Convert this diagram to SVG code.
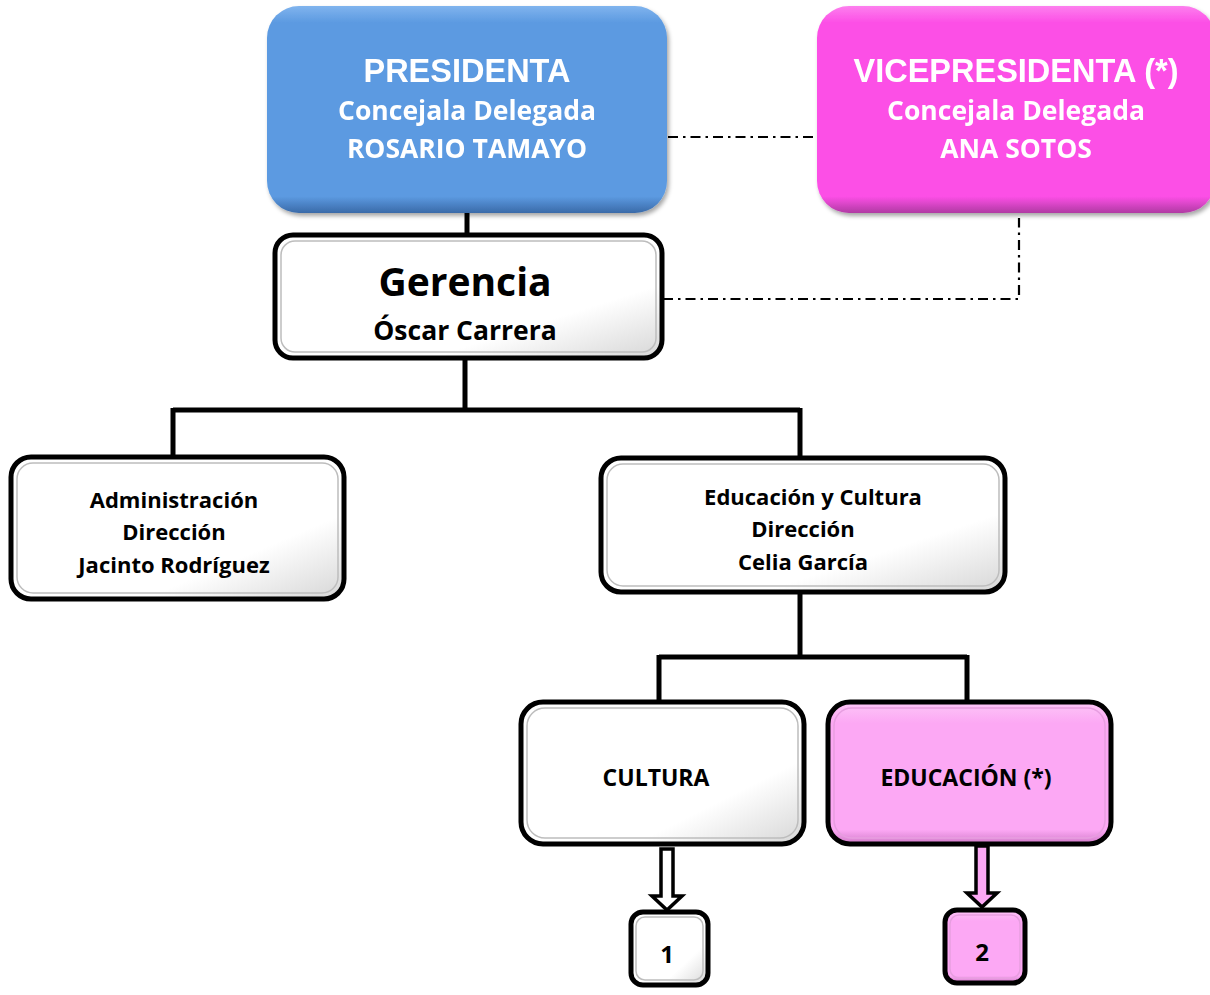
<svg xmlns="http://www.w3.org/2000/svg" width="1210" height="995" viewBox="0 0 1210 995">
<defs>
<linearGradient id="gw" x1="0" y1="0" x2="1" y2="1">
<stop offset="0" stop-color="#ffffff"/><stop offset="0.7" stop-color="#ffffff"/><stop offset="1" stop-color="#d6d6d6"/>
</linearGradient>
<linearGradient id="gp" x1="0" y1="0" x2="0" y2="1">
<stop offset="0" stop-color="#fdc6f7"/><stop offset="0.15" stop-color="#fca8f4"/><stop offset="0.9" stop-color="#fca8f4"/><stop offset="1" stop-color="#d07ac8"/>
</linearGradient>
<linearGradient id="gb" x1="0" y1="0" x2="0" y2="1">
<stop offset="0" stop-color="#80b4ee"/><stop offset="0.08" stop-color="#5c9ae1"/><stop offset="0.92" stop-color="#5c9ae1"/><stop offset="1" stop-color="#3a6aa8"/>
</linearGradient>
<linearGradient id="gm" x1="0" y1="0" x2="0" y2="1">
<stop offset="0" stop-color="#fd7fee"/><stop offset="0.08" stop-color="#fc4fe6"/><stop offset="0.92" stop-color="#fc4fe6"/><stop offset="1" stop-color="#b03aa3"/>
</linearGradient>
<filter id="sh" x="-5%" y="-5%" width="115%" height="120%">
<feDropShadow dx="2" dy="3" stdDeviation="2" flood-color="#000" flood-opacity="0.35"/>
</filter>
</defs>
<style>
.box{stroke:#000;stroke-width:5}
.inner{fill:none;stroke:#bdbdbd;stroke-width:1.5}
.t{font-family:"Open Sans","Lato",sans-serif;font-weight:bold;text-anchor:middle;fill:#000}
.tw{font-family:"Open Sans","Lato",sans-serif;font-weight:bold;text-anchor:middle;fill:#fff}
.ta{font-family:"Liberation Sans",Arial,sans-serif;font-weight:bold;text-anchor:middle;fill:#fff}
.ln{fill:none;stroke:#000;stroke-width:5}
.dd{fill:none;stroke:#000;stroke-width:2.2;stroke-dasharray:10,5,2.5,5}
.arr{stroke:#000;stroke-width:3.5;stroke-linejoin:miter}
</style>

<g id="connectors">
<path class="ln" d="M467,213 V235"/>
<path class="ln" d="M465,358 V410 M173,410 H800 M173,408 V458 M800,408 V458"/>
<path class="ln" d="M800,592 V657 M659,657 H967 M659,655 V703 M967,655 V703"/>
<path class="dd" d="M668,137 H817"/>
<path class="dd" d="M663,299 H1019 V218"/>
<polygon class="arr" fill="#fff" points="661,849 673,849 673,896 682,896 667,910 652,896 661,896"/>
<polygon class="arr" fill="#fca8f4" points="976,846 988,846 988,893 997,893 982,907 967,893 976,893"/>
</g>

<g id="presidenta" filter="url(#sh)">
<rect x="267" y="6" width="400" height="207" rx="32" fill="url(#gb)"/>
<text class="ta" x="467" y="82" font-size="32.5">PRESIDENTA</text>
<text class="tw" x="467" y="120" font-size="26.5">Concejala Delegada</text>
<text class="tw" x="467" y="158" font-size="26.5">ROSARIO TAMAYO</text>
</g>

<g id="vicepresidenta" filter="url(#sh)">
<rect x="817" y="6" width="398" height="207" rx="32" fill="url(#gm)"/>
<text class="ta" x="1016" y="82" font-size="32.5">VICEPRESIDENTA (*)</text>
<text class="tw" x="1016" y="120" font-size="26.5">Concejala Delegada</text>
<text class="tw" x="1016" y="158" font-size="26.5">ANA SOTOS</text>
</g>

<g id="gerencia">
<rect class="box" x="275" y="235" width="387" height="123" rx="18" fill="url(#gw)"/>
<rect class="inner" x="281" y="241" width="375" height="111" rx="14"/>
<text class="t" x="465" y="296" font-size="39">Gerencia</text>
<text class="t" x="465" y="340" font-size="26.5">Óscar Carrera</text>
</g>

<g id="administracion">
<rect class="box" x="11" y="457" width="333" height="142" rx="20" fill="url(#gw)"/>
<rect class="inner" x="17" y="463" width="321" height="130" rx="16"/>
<text class="t" x="174" y="508" font-size="22">Administración</text>
<text class="t" x="174" y="540" font-size="22">Dirección</text>
<text class="t" x="174" y="573" font-size="22">Jacinto Rodríguez</text>
</g>

<g id="educacion-cultura">
<rect class="box" x="601" y="458" width="404" height="134" rx="20" fill="url(#gw)"/>
<rect class="inner" x="607" y="464" width="392" height="122" rx="16"/>
<text class="t" x="813" y="505" font-size="22">Educación y Cultura</text>
<text class="t" x="803" y="537" font-size="22">Dirección</text>
<text class="t" x="803" y="570" font-size="22">Celia García</text>
</g>

<g id="cultura">
<rect class="box" x="521" y="702" width="283" height="142" rx="22" fill="url(#gw)"/>
<rect class="inner" x="527" y="708" width="271" height="130" rx="18"/>
<text class="t" x="656" y="786" font-size="23">CULTURA</text>
</g>

<g id="educacion">
<rect class="box" x="828" y="702" width="283" height="142" rx="22" fill="url(#gp)"/>
<rect class="inner" x="834" y="708" width="271" height="130" rx="18" style="stroke:#e79ee0"/>
<text class="t" x="966" y="786" font-size="23">EDUCACIÓN (*)</text>
</g>

<g id="box1">
<rect class="box" x="631" y="912" width="77" height="73" rx="12" fill="url(#gw)"/>
<rect class="inner" x="636" y="917" width="67" height="63" rx="9"/>
<text class="t" x="667" y="963" font-size="24">1</text>
</g>

<g id="box2">
<rect class="box" x="945" y="910" width="80" height="73" rx="12" fill="url(#gp)"/>
<rect class="inner" x="950" y="915" width="70" height="63" rx="9" style="stroke:#e79ee0"/>
<text class="t" x="982" y="961" font-size="24">2</text>
</g>
</svg>
